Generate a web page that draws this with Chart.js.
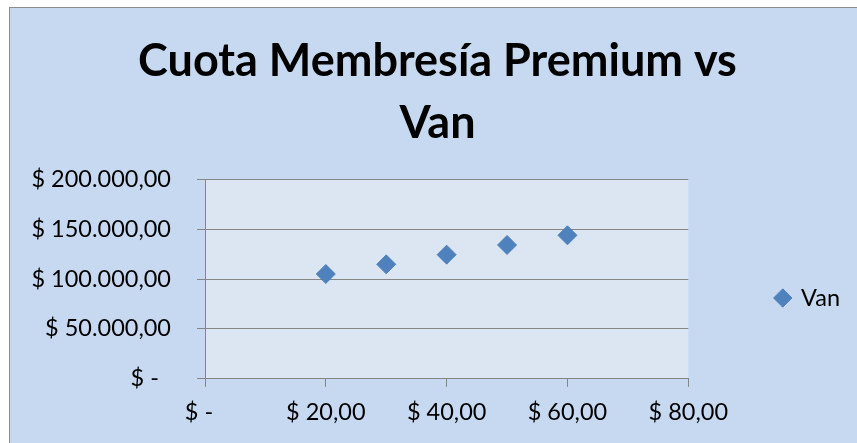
<!DOCTYPE html>
<html>
<head>
<meta charset="utf-8">
<script src="https://cdn.jsdelivr.net/npm/chart.js@4"></script>
<style>
  html, body { margin: 0; background: #ffffff; overflow: hidden; }
  #box { position: absolute; left: 9px; top: 7px; width: 858px; height: 440px; border: 1px solid #8c8c8c; background: #c6d9f1; }
  canvas { display: block; }
</style>
</head>
<body>
<div id="box"><canvas id="chartVan" width="858" height="440"></canvas></div>
<script>
const titleLines = ['Cuota Membresía Premium vs', 'Van'];
const seriesName = 'Van';
const cuotaValues = [20, 30, 40, 50, 60];
const vanValues = [105000, 114700, 124400, 134100, 143800];
const xTickLabels = ['$ -  ', '$ 20,00', '$ 40,00', '$ 60,00', '$ 80,00'];
const yTickLabels = ['$ -  ', '$ 50.000,00', '$ 100.000,00', '$ 150.000,00', '$ 200.000,00'];

const fontFamily = 'Lato, "Open Sans", sans-serif';
const axisGray = '#868686';
const markerBlue = '#4f81bd';

// light fill behind the plot area only
const plotBg = {
  id: 'plotBg',
  beforeDraw(chart) {
    const { ctx, chartArea: a } = chart;
    ctx.save();
    ctx.fillStyle = '#dce6f2';
    ctx.fillRect(a.left, a.top, a.width, a.height);
    ctx.restore();
  }
};

new Chart(document.getElementById('chartVan'), {
  type: 'scatter',
  data: {
    datasets: [{
      label: seriesName,
      data: cuotaValues.map((x, i) => ({ x, y: vanValues[i] })),
      pointStyle: 'rectRot',
      pointRadius: 9.5,
      pointHoverRadius: 9.5,
      backgroundColor: markerBlue,
      borderColor: markerBlue,
      pointBorderWidth: 1
    }]
  },
  options: {
    responsive: false,
    animation: false,
    layout: { padding: { left: 15, right: 18, top: 0, bottom: 9 } },
    plugins: {
      tooltip: { enabled: false },
      title: {
        display: true,
        text: titleLines,
        color: '#000000',
        font: { family: fontFamily, size: 45, weight: 'bold', lineHeight: 1.38 },
        padding: { top: 22, bottom: 25 }
      },
      legend: {
        position: 'right',
        fullSize: false,
        title: { display: true, text: ' ', font: { size: 10, lineHeight: 1 }, padding: { top: 28, bottom: 0 } },
        labels: {
          usePointStyle: true,
          boxWidth: 13,
          boxHeight: 13,
          padding: 88,
          color: '#000000',
          font: { family: fontFamily, size: 23.5 }
        }
      }
    },
    scales: {
      x: {
        type: 'linear',
        min: 0,
        max: 80,
        ticks: {
          stepSize: 20,
          color: '#000000',
          padding: 12,
          maxRotation: 0,
          font: { family: fontFamily, size: 23.5 },
          callback: (v, i) => xTickLabels[i]
        },
        grid: { drawOnChartArea: false, drawTicks: true, tickLength: 8, color: axisGray },
        border: { display: true, color: axisGray, width: 1 }
      },
      y: {
        type: 'linear',
        min: 0,
        max: 200000,
        afterFit: scale => { scale.width = 180; },
        ticks: {
          stepSize: 50000,
          color: '#000000',
          padding: 26,
          font: { family: fontFamily, size: 23.5 },
          callback: (v, i) => yTickLabels[i]
        },
        grid: { drawOnChartArea: true, drawTicks: true, tickLength: 8, color: axisGray, lineWidth: 1 },
        border: { display: true, color: axisGray, width: 1 }
      }
    }
  },
  plugins: [plotBg]
});
</script>
</body>
</html>
